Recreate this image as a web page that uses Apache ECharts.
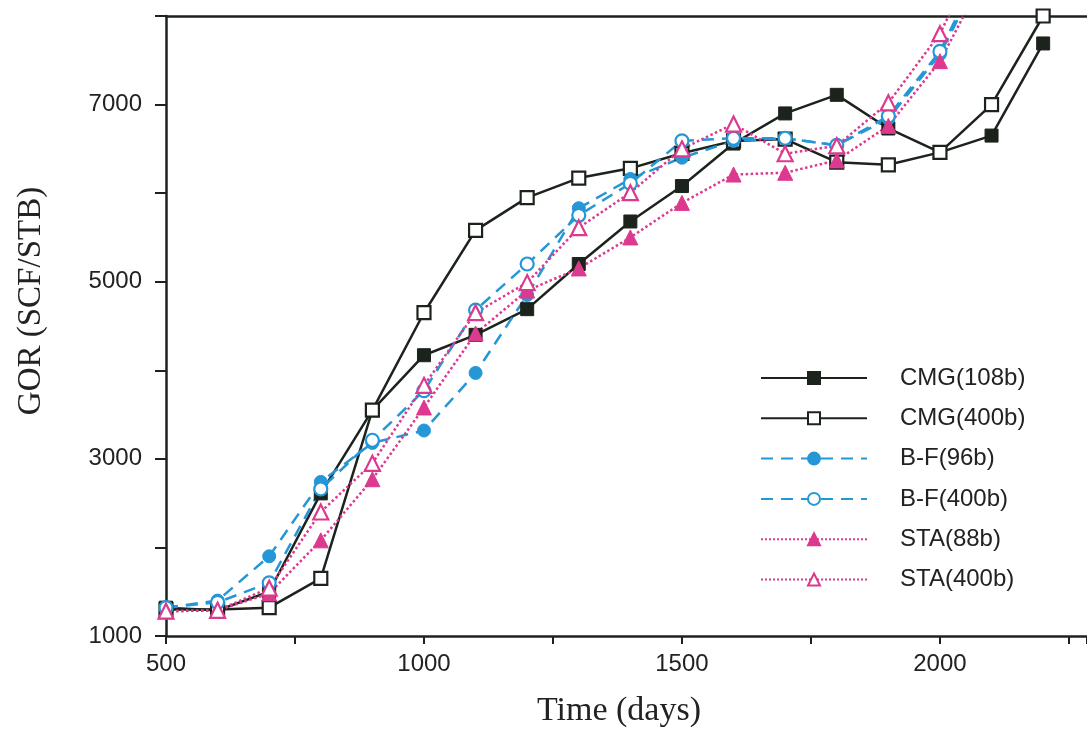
<!DOCTYPE html>
<html>
<head>
<meta charset="utf-8">
<script src="https://cdn.jsdelivr.net/npm/echarts@6/dist/echarts.min.js"></script>
<style>
html,body{margin:0;padding:0;background:#fff;}
#c{width:1087px;height:734px;}
</style>
</head>
<body>
<div id="c"></div>
<script>
// ---- data ----
var days = [500,600,700,800,900,1000,1100,1200,1300,1400,1500,1600,1700,1800,1900,2000,2100,2200];
var cmg108 = [1320,1290,1500,2610,3550,4170,4400,4690,5200,5680,6080,6560,6900,7110,6730,6460,6650,7690];
var cmg400 = [1300,1300,1320,1650,3550,4650,5580,5950,6170,6280,6450,6590,6610,6350,6320,6460,7000,8000];
var bf96   = [1320,1400,1900,2740,3180,3320,3970,4850,5830,6160,6400,6590,6620,6540,6840,7570,8700];
var bf400  = [1320,1380,1600,2660,3210,3770,4680,5200,5750,6110,6590,6620,6620,6540,6870,7600,8800];
var sta88  = [1280,1290,1480,2080,2770,3580,4415,4900,5150,5500,5890,6210,6230,6370,6760,7490,8600];
var sta400 = [1280,1290,1540,2400,2950,3830,4650,4990,5610,6005,6500,6780,6445,6535,7020,7800,9000];
var seriesNames = ['CMG(108b)','CMG(400b)','B-F(96b)','B-F(400b)','STA(88b)','STA(400b)'];
var xTickLabels = [500,1000,1500,2000];
var yTickLabels = [1000,3000,5000,7000];
var xTitle = 'Time (days)';
var yTitle = 'GOR (SCF/STB)';

function pairs(vals){ return vals.map(function(v,i){ return [days[i], v]; }); }

var BLACK = '#1c231c', BLUE = '#2596d6', PINK = '#dc3a8e';

function mk(name, vals, color, lineType, symbol, filled, size){
  return {
    name: name, type: 'line', data: pairs(vals), clip: true,
    symbol: symbol, symbolSize: size, showSymbol: true,
    lineStyle: {color: color, width: 2.5, type: lineType},
    itemStyle: filled ? {color: color, borderColor: color, borderWidth: 1}
                      : {color: '#ffffff', borderColor: color, borderWidth: 2.2},
    emphasis: {disabled: true},
    z: 3
  };
}

var chart = echarts.init(document.getElementById('c'), null, {renderer: 'canvas'});
chart.setOption({
  backgroundColor: '#ffffff',
  animation: false,
  grid: {left: 166, right: 0, top: 16, bottom: 98, show: false, outerBoundsMode: 'none', containLabel: false},
  xAxis: [{
    type: 'value', min: 500, max: 2285, interval: 250,
    name: xTitle, nameLocation: 'middle', nameGap: 58,
    nameTextStyle: {fontFamily: 'Liberation Serif', fontSize: 34, color: '#222', padding: [0, 15, 0, 0]},
    axisLine: {lineStyle: {color: BLACK, width: 2.5}},
    axisTick: {show: true, inside: false, length: 8, lineStyle: {color: BLACK, width: 2}},
    splitLine: {show: false},
    axisLabel: {margin: 16, fontFamily: 'Liberation Sans', fontSize: 24, color: '#222',
      formatter: function(v){ return xTickLabels.indexOf(v) >= 0 ? String(v) : ''; }}
  }, {
    type: 'value', position: 'top', min: 500, max: 2285,
    axisLine: {show: true, onZero: false, lineStyle: {color: BLACK, width: 2.5}},
    axisTick: {show: false}, axisLabel: {show: false}, splitLine: {show: false}
  }],
  yAxis: {
    type: 'value', min: 1000, max: 8000, interval: 1000,
    name: yTitle, nameLocation: 'middle', nameGap: 118, nameRotate: 90,
    nameTextStyle: {fontFamily: 'Liberation Serif', fontSize: 33, color: '#222', padding: [0, 0, 0, 50]},
    axisLine: {lineStyle: {color: BLACK, width: 2.5}},
    axisTick: {show: true, inside: false, length: 11, lineStyle: {color: BLACK, width: 2}},
    splitLine: {show: false},
    axisLabel: {margin: 24, fontFamily: 'Liberation Sans', fontSize: 24, color: '#222',
      formatter: function(v){ return yTickLabels.indexOf(v) >= 0 ? String(v) : ''; }}
  },
  legend: {
    orient: 'vertical', left: 755, top: 361,
    itemWidth: 106, itemHeight: 15, itemGap: 16.3,
    textStyle: {fontFamily: 'Liberation Sans', fontSize: 24, color: '#222', lineHeight: 24, padding: [0,0,0,28]},
    data: seriesNames,
    selectedMode: false
  },
  series: [
    mk(seriesNames[0], cmg108, BLACK, 'solid', 'rect', true, 13),
    mk(seriesNames[1], cmg400, BLACK, 'solid', 'rect', false, 13),
    mk(seriesNames[2], bf96, BLUE, [12,8], 'circle', true, 13),
    mk(seriesNames[3], bf400, BLUE, [12,8], 'circle', false, 13),
    mk(seriesNames[4], sta88, PINK, 'dotted', 'triangle', true, 15),
    mk(seriesNames[5], sta400, PINK, 'dotted', 'triangle', false, 15)
  ]
});
</script>
</body>
</html>
